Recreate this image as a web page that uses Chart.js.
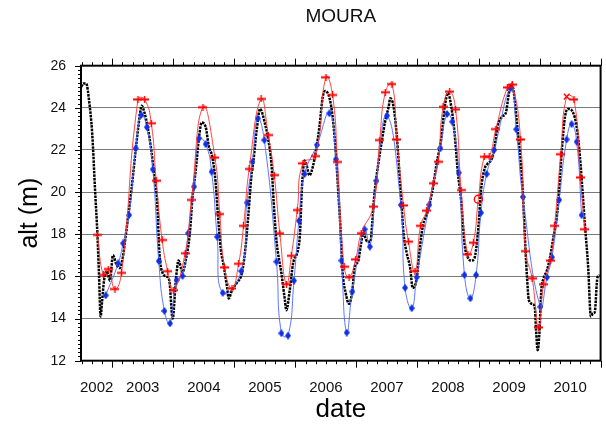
<!DOCTYPE html>
<html>
<head>
<meta charset="utf-8">
<script src="https://cdn.jsdelivr.net/npm/chart.js@4.4.1/dist/chart.umd.min.js"></script>
<style>
  html, body { margin: 0; padding: 0; background: #fff; }
  canvas { display: block; }
</style>
</head>
<body>
<canvas id="chart" width="606" height="425"></canvas>
<script>
// x axis window (decimal years) and tick labels
const xMin = 2002.488;
const xMax = 2011.0;
const yearLabels = ["2002", "2003", "2004", "2005", "2006", "2007", "2008", "2009", "2010"];
const yearLabelAt = [2002.744, 2003.5, 2004.5, 2005.5, 2006.5, 2007.5, 2008.5, 2009.5, 2010.5];

// in-situ gauge (black)
const blackT = [2002.493, 2002.525, 2002.574, 2002.622, 2002.671, 2002.720, 2002.757, 2002.784, 2002.809, 2002.833,
  2002.865, 2002.909, 2002.963, 2003.011, 2003.071, 2003.125, 2003.173, 2003.206, 2003.254, 2003.314,
  2003.384, 2003.449, 2003.481, 2003.530, 2003.579, 2003.639, 2003.692, 2003.736, 2003.773, 2003.827,
  2003.887, 2003.935, 2003.989, 2004.044, 2004.086, 2004.151, 2004.206, 2004.271, 2004.313, 2004.368,
  2004.421, 2004.465, 2004.530, 2004.583, 2004.637, 2004.692, 2004.729, 2004.778, 2004.827, 2004.880,
  2004.908, 2004.961, 2005.042, 2005.123, 2005.178, 2005.232, 2005.280, 2005.313, 2005.366, 2005.421,
  2005.502, 2005.556, 2005.609, 2005.645, 2005.690, 2005.771, 2005.827, 2005.852, 2005.908, 2005.961,
  2006.042, 2006.075, 2006.107, 2006.151, 2006.177, 2006.232, 2006.285, 2006.339, 2006.394, 2006.447,
  2006.485, 2006.556, 2006.609, 2006.663, 2006.707, 2006.739, 2006.771, 2006.825, 2006.880, 2006.934,
  2006.971, 2007.026, 2007.068, 2007.112, 2007.177, 2007.230, 2007.258, 2007.295, 2007.366, 2007.420,
  2007.473, 2007.528, 2007.554, 2007.609, 2007.663, 2007.716, 2007.744, 2007.771, 2007.825, 2007.878,
  2007.922, 2007.987, 2008.040, 2008.096, 2008.149, 2008.203, 2008.258, 2008.311, 2008.392, 2008.446,
  2008.501, 2008.554, 2008.608, 2008.663, 2008.716, 2008.744, 2008.770, 2008.825, 2008.878, 2008.932,
  2008.959, 2009.003, 2009.041, 2009.094, 2009.149, 2009.203, 2009.256, 2009.311, 2009.392, 2009.446,
  2009.499, 2009.543, 2009.580, 2009.635, 2009.689, 2009.726, 2009.770, 2009.797, 2009.823, 2009.878,
  2009.921, 2009.943, 2009.969, 2009.997, 2010.029, 2010.066, 2010.122, 2010.175, 2010.229, 2010.284,
  2010.321, 2010.365, 2010.418, 2010.472, 2010.553, 2010.608, 2010.661, 2010.710, 2010.742, 2010.796,
  2010.840, 2010.877, 2010.904, 2010.948, 2010.985];
const blackH = [25.0, 25.15, 25.15, 24.3, 22.8, 20.0, 18.0, 16.0, 14.1, 14.8,
  15.8, 16.25, 15.8, 17.0, 16.55, 16.4, 16.9, 17.6, 18.7, 20.1,
  22.0, 23.6, 24.1, 23.75, 23.1, 22.0, 20.7, 19.5, 17.1, 16.15,
  16.0, 15.8, 14.0, 15.9, 16.75, 16.2, 16.8, 18.05, 19.7, 21.05,
  22.6, 23.3, 23.1, 22.15, 21.7, 20.5, 19.0, 17.3, 16.5, 15.5,
  14.95, 15.35, 15.7, 16.15, 17.25, 19.0, 20.8, 21.5, 22.95, 23.95,
  23.25, 22.5, 21.3, 19.5, 17.7, 16.15, 14.9, 14.4, 15.35, 16.6,
  17.25, 18.0, 20.2, 21.5, 21.35, 20.8, 21.2, 22.0, 23.1, 24.5,
  24.8, 24.5, 23.6, 21.85, 19.8, 18.3, 16.3, 15.2, 14.7, 15.35,
  16.45, 16.7, 17.4, 18.05, 17.65, 17.65, 18.5, 19.9, 21.5, 22.5,
  23.4, 24.05, 24.45, 24.05, 22.6, 20.4, 19.2, 18.05, 17.1, 16.45,
  15.45, 15.9, 17.4, 18.5, 18.9, 19.5, 20.3, 21.3, 22.6, 24.05,
  24.7, 24.05, 22.8, 20.9, 19.6, 18.5, 17.55, 16.9, 16.75, 16.85,
  17.25, 18.5, 20.1, 21.05, 21.35, 21.5, 22.0, 23.1, 23.6, 23.75,
  24.7, 25.15, 24.7, 23.1, 21.5, 20.0, 17.25, 15.85, 14.9, 14.7,
  14.55, 13.45, 12.5, 13.3, 15.35, 15.9, 16.3, 16.95, 17.9, 18.85,
  20.1, 22.0, 23.6, 23.95, 23.75, 23.1, 21.7, 19.8, 18.5, 16.45,
  14.1, 14.25, 14.3, 15.95, 16.05];

// altimetry series (red)
const redT = [2002.757, 2002.854, 2002.935, 2003.044, 2003.152, 2003.421, 2003.530, 2003.639, 2003.720, 2003.817,
  2003.908, 2004.000, 2004.194, 2004.297, 2004.486, 2004.681, 2004.762, 2004.838, 2004.961, 2005.070,
  2005.151, 2005.243, 2005.438, 2005.556, 2005.653, 2005.745, 2005.853, 2005.934, 2006.031, 2006.123,
  2006.323, 2006.501, 2006.609, 2006.690, 2006.799, 2006.880, 2006.987, 2007.079, 2007.274, 2007.382,
  2007.473, 2007.582, 2007.663, 2007.771, 2007.852, 2007.959, 2008.052, 2008.149, 2008.258, 2008.339,
  2008.420, 2008.527, 2008.624, 2008.716, 2008.825, 2008.916, 2008.997, 2009.094, 2009.175, 2009.284,
  2009.473, 2009.554, 2009.689, 2009.770, 2009.878, 2009.985, 2010.066, 2010.175, 2010.245, 2010.348,
  2010.444, 2010.564, 2010.668, 2010.742];
const redH = [17.97, 16.07, 16.35, 15.40, 16.17, 24.40, 24.40, 23.27, 20.54, 17.73,
  16.25, 15.35, 17.10, 19.63, 24.03, 21.64, 18.96, 16.43, 15.43, 16.60,
  18.40, 21.10, 24.42, 22.71, 20.81, 18.05, 15.63, 16.98, 19.15, 21.37,
  21.71, 25.45, 24.61, 21.43, 16.46, 15.96, 16.81, 18.05, 19.31, 22.47,
  24.74, 25.13, 22.50, 19.37, 17.65, 16.25, 18.40, 19.12, 20.42, 21.44,
  24.05, 24.77, 23.93, 20.10, 17.05, 17.60, 19.66, 21.68, 21.68, 22.99,
  24.97, 25.10, 22.50, 17.20, 15.91, 13.58, 15.63, 16.75, 18.40, 21.80,
  24.53, 24.40, 20.70, 18.24];

// altimetry series (blue)
const blueT = [2002.893, 2003.097, 2003.178, 2003.276, 2003.384, 2003.476, 2003.567, 2003.665, 2003.762, 2003.854,
  2003.947, 2004.053, 2004.151, 2004.243, 2004.340, 2004.421, 2004.530, 2004.627, 2004.718, 2004.810,
  2005.113, 2005.204, 2005.297, 2005.382, 2005.491, 2005.690, 2005.771, 2005.880, 2005.977, 2006.058,
  2006.151, 2006.355, 2006.556, 2006.663, 2006.755, 2006.841, 2006.933, 2007.133, 2007.220, 2007.327,
  2007.501, 2007.728, 2007.797, 2007.906, 2007.987, 2008.193, 2008.376, 2008.485, 2008.570, 2008.679,
  2008.770, 2008.867, 2008.960, 2009.040, 2009.133, 2009.256, 2009.527, 2009.619, 2009.726, 2010.013,
  2010.121, 2010.203, 2010.321, 2010.444, 2010.525, 2010.608, 2010.689];
const blueH = [15.10, 16.62, 17.57, 18.91, 22.08, 23.66, 23.08, 21.08, 16.73, 14.36,
  13.77, 15.83, 16.02, 18.05, 20.26, 22.55, 22.28, 20.97, 17.88, 15.22,
  16.25, 19.50, 21.44, 23.50, 22.47, 16.70, 13.30, 13.19, 15.80, 18.64,
  20.86, 22.24, 23.74, 21.56, 16.75, 13.33, 15.28, 18.24, 17.41, 20.54,
  23.63, 19.39, 15.46, 14.49, 15.96, 19.40, 22.08, 23.71, 23.34, 20.92,
  16.07, 14.96, 16.07, 19.02, 20.86, 22.00, 24.93, 22.98, 19.77, 14.56,
  15.96, 16.91, 19.63, 22.50, 23.23, 22.39, 18.91];

const pts = (t, h) => t.map((v, i) => ({ x: v, y: h[i] }));
const redCircleAt = redT.indexOf(2008.997);
const redXAt = redT.indexOf(2010.444);

// marker glyphs: red "+" with a wide bar, slim blue diamond
function glyph(w, h, draw) {
  const c = document.createElement("canvas");
  c.width = w; c.height = h;
  draw(c.getContext("2d"));
  return c;
}
const redPlus = glyph(9, 7, g => {
  g.fillStyle = "#ff0000";
  g.fillRect(0, 2.5, 9, 2);
  g.fillRect(3.8, 0, 1.4, 7);
});
const blueDiamond = glyph(6, 8, g => {
  g.fillStyle = "#1030e8";
  g.beginPath();
  g.moveTo(3, 0); g.lineTo(6, 4); g.lineTo(3, 8); g.lineTo(0, 4);
  g.closePath(); g.fill();
});

// frame plus the little tick marks (every 2 months / every 0.2 m)
const frameTicks = {
  id: "frameTicks",
  afterDraw(chart) {
    const { ctx, chartArea: a, scales } = chart;
    const x = scales.x, y = scales.y;
    ctx.save();
    ctx.strokeStyle = "#000";
    ctx.lineWidth = 1;
    ctx.beginPath();
    for (let k = Math.ceil(x.min * 6); k <= Math.floor(x.max * 6); k++) {
      const px = Math.round(x.getPixelForValue(k / 6)) + 0.5;
      const len = k % 6 === 0 ? 7 : 3.5;
      ctx.moveTo(px, a.bottom); ctx.lineTo(px, a.bottom + len);
      ctx.moveTo(px, a.top); ctx.lineTo(px, a.top - len);
    }
    for (let k = 60; k <= 130; k++) {
      const py = Math.round(y.getPixelForValue(k / 5)) + 0.5;
      const len = k % 10 === 0 ? 6 : 3;
      ctx.moveTo(a.left - len, py); ctx.lineTo(a.left, py);
    }
    ctx.stroke();
    ctx.lineWidth = 2;
    ctx.strokeRect(a.left, a.top, a.right - a.left, a.bottom - a.top);
    ctx.restore();
  }
};

new Chart(document.getElementById("chart"), {
  type: "line",
  data: {
    datasets: [
      {
        label: "red",
        data: pts(redT, redH),
        borderColor: "#ff3030",
        borderWidth: 0.9,
        tension: 0.5,
        pointStyle: ctx => ctx.dataIndex === redCircleAt ? "circle" : (ctx.dataIndex === redXAt ? "crossRot" : redPlus),
        pointRadius: 4,
        pointBorderWidth: 1.4,
        pointBorderColor: "#ff0000",
        pointBackgroundColor: "rgba(0,0,0,0)"
      },
      {
        label: "blue",
        data: pts(blueT, blueH),
        borderColor: "#4a66ff",
        borderWidth: 0.9,
        tension: 0.5,
        pointStyle: blueDiamond,
        pointRadius: 3
      },
      {
        label: "black",
        data: pts(blackT, blackH),
        borderColor: "#000",
        borderWidth: 2.5,
        borderDash: [2.5, 1],
        cubicInterpolationMode: "monotone",
        pointRadius: 0
      }
    ]
  },
  options: {
    responsive: false,
    animation: false,
    devicePixelRatio: 1,
    layout: { padding: 0 },
    plugins: {
      legend: { display: false },
      tooltip: { enabled: false },
      title: {
        display: true,
        text: "MOURA",
        fullSize: false,
        color: "#111",
        font: { family: "Liberation Sans", size: 19, weight: "normal" },
        padding: { top: 5.6, bottom: 37.3 }
      }
    },
    scales: {
      x: {
        type: "linear",
        min: xMin,
        max: xMax,
        afterBuildTicks: s => { s.ticks = yearLabelAt.map(v => ({ value: v })); },
        afterFit: s => { s.height = 64.3; },
        grid: { display: false },
        border: { display: false },
        ticks: {
          autoSkip: false,
          maxRotation: 0,
          padding: 10,
          color: "#111",
          font: { family: "Liberation Sans", size: 15 },
          callback: (v, i) => yearLabels[i]
        },
        title: {
          display: true,
          text: "date",
          color: "#000",
          font: { family: "Liberation Sans", size: 26 },
          padding: { top: 0, bottom: 0 }
        }
      },
      y: {
        min: 12,
        max: 26,
        afterFit: s => { s.width = 81; },
        grid: { color: "#7a7a7a", lineWidth: 1, drawTicks: false },
        border: { display: false },
        ticks: {
          stepSize: 2,
          padding: 15,
          color: "#111",
          font: { family: "Liberation Sans", size: 14 }
        },
        title: {
          display: true,
          text: "alt (m)",
          color: "#000",
          font: { family: "Liberation Sans", size: 25 },
          padding: { top: 15, bottom: 0 }
        }
      }
    }
  },
  plugins: [frameTicks]
});
</script>
</body>
</html>
